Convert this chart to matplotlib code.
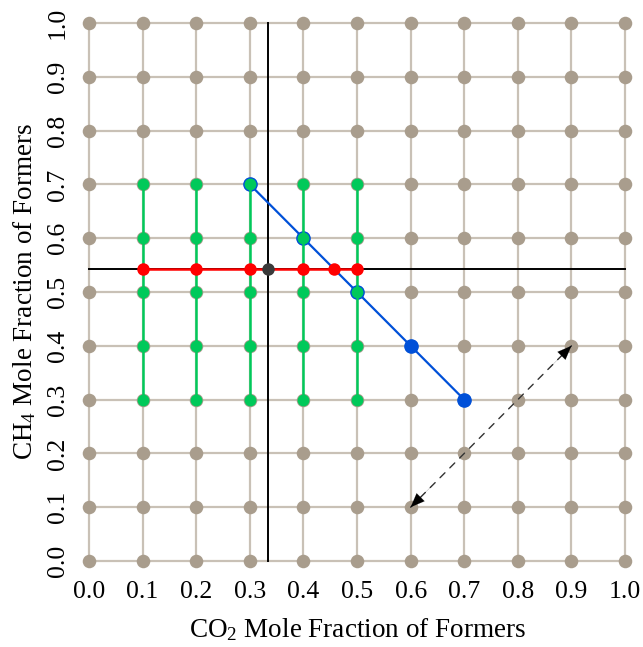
import numpy as np
import matplotlib
matplotlib.use("Agg")
import matplotlib.pyplot as plt

plt.rcParams['font.family'] = ['Liberation Serif', 'DejaVu Serif']
plt.rcParams['mathtext.fontset'] = 'custom'
plt.rcParams['mathtext.rm'] = 'Liberation Serif'
plt.rcParams['mathtext.it'] = 'Liberation Serif'

# composition grid
grid_vals = [0.0, 0.1, 0.2, 0.3, 0.4, 0.5, 0.6, 0.7, 0.8, 0.9, 1.0]
tick_labels = ["0.0", "0.1", "0.2", "0.3", "0.4", "0.5", "0.6", "0.7", "0.8", "0.9", "1.0"]

# reference point (CO2, CH4)
ref_co2 = 1 / 3
ref_ch4 = 0.543

# green columns
green_x = [0.1, 0.2, 0.3, 0.4, 0.5]
green_y = [0.3, 0.4, 0.5, 0.6, 0.7]

# red row along CH4 = ref
red_x = [0.1, 0.2, 0.3, 0.4, 0.457, 0.5]

# blue diagonal
blue_x = [0.3, 0.4, 0.5, 0.6, 0.7]
blue_y = [0.7, 0.6, 0.5, 0.4, 0.3]

# dashed arrow
arrow_start = (0.6, 0.1)
arrow_end = (0.9, 0.4)

GRID_LINE = '#c9c1b6'
GRID_DOT = '#a99d8d'
GREEN = '#00c95a'
RED = '#ff0000'
BLUE = '#0050d8'

fig = plt.figure(figsize=(6.43, 6.47), dpi=100)
ax = fig.add_axes([0.1176, 0.1121, 0.8753, 0.8731])

for v in grid_vals:
    ax.plot([v, v], [0, 1], color=GRID_LINE, lw=1.6, zorder=1)
    ax.plot([0, 1], [v, v], color=GRID_LINE, lw=1.6, zorder=1)
gx, gy = np.meshgrid(grid_vals, grid_vals)
ax.scatter(gx.ravel(), gy.ravel(), s=95, color=GRID_DOT, zorder=2, linewidths=0)

ax.plot([ref_co2, ref_co2], [0, 1], color='black', lw=1.4, zorder=3)
ax.plot([0, 1], [ref_ch4, ref_ch4], color='black', lw=1.4, zorder=3)

ax.plot(blue_x, blue_y, color=BLUE, lw=1.6, marker='o', ms=9.5,
        mfc=BLUE, mec=BLUE, zorder=4)

for x in green_x:
    ax.plot([x] * len(green_y), green_y, color=GREEN, lw=1.8, marker='o',
            ms=8.5, mec='none', zorder=5)

ax.plot(red_x, [ref_ch4] * len(red_x), color=RED, lw=1.8, marker='o',
        ms=9, mec='none', zorder=6)
ax.plot([ref_co2], [ref_ch4], marker='o', ms=9, color='#3a3a3a', mec='none', zorder=7)

# double-headed dashed arrow
ax.annotate('', xy=arrow_end, xytext=arrow_start,
            arrowprops=dict(arrowstyle='-', color='#333333', lw=1.0,
                            linestyle=(0, (5, 5)), shrinkA=0, shrinkB=0), zorder=8)
ax.annotate('', xy=arrow_end, xytext=(arrow_end[0] - 0.04, arrow_end[1] - 0.04),
            arrowprops=dict(arrowstyle='-|>,head_length=1.0,head_width=0.4',
                            color='black', lw=0.1, shrinkA=0, shrinkB=0), zorder=8)
ax.annotate('', xy=arrow_start, xytext=(arrow_start[0] + 0.04, arrow_start[1] + 0.04),
            arrowprops=dict(arrowstyle='-|>,head_length=1.0,head_width=0.4',
                            color='black', lw=0.1, shrinkA=0, shrinkB=0), zorder=8)

ax.set_xlim(-0.025, 1.025)
ax.set_ylim(-0.025, 1.025)
ax.set_xticks(grid_vals)
ax.set_xticklabels(tick_labels, fontsize=18.5)
ax.set_yticks(grid_vals)
ax.set_yticklabels(tick_labels, fontsize=18.5, rotation=90, va='center')
ax.tick_params(axis='x', length=0, pad=5)
ax.tick_params(axis='y', length=0, pad=5)
for s in ax.spines.values():
    s.set_visible(False)

ax.set_xlabel('CO$_2$ Mole Fraction of Formers', fontsize=19.5, labelpad=9)
ax.set_ylabel('CH$_4$ Mole Fraction of Formers', fontsize=19.5, labelpad=6)

fig.savefig('out.png', dpi=100)
